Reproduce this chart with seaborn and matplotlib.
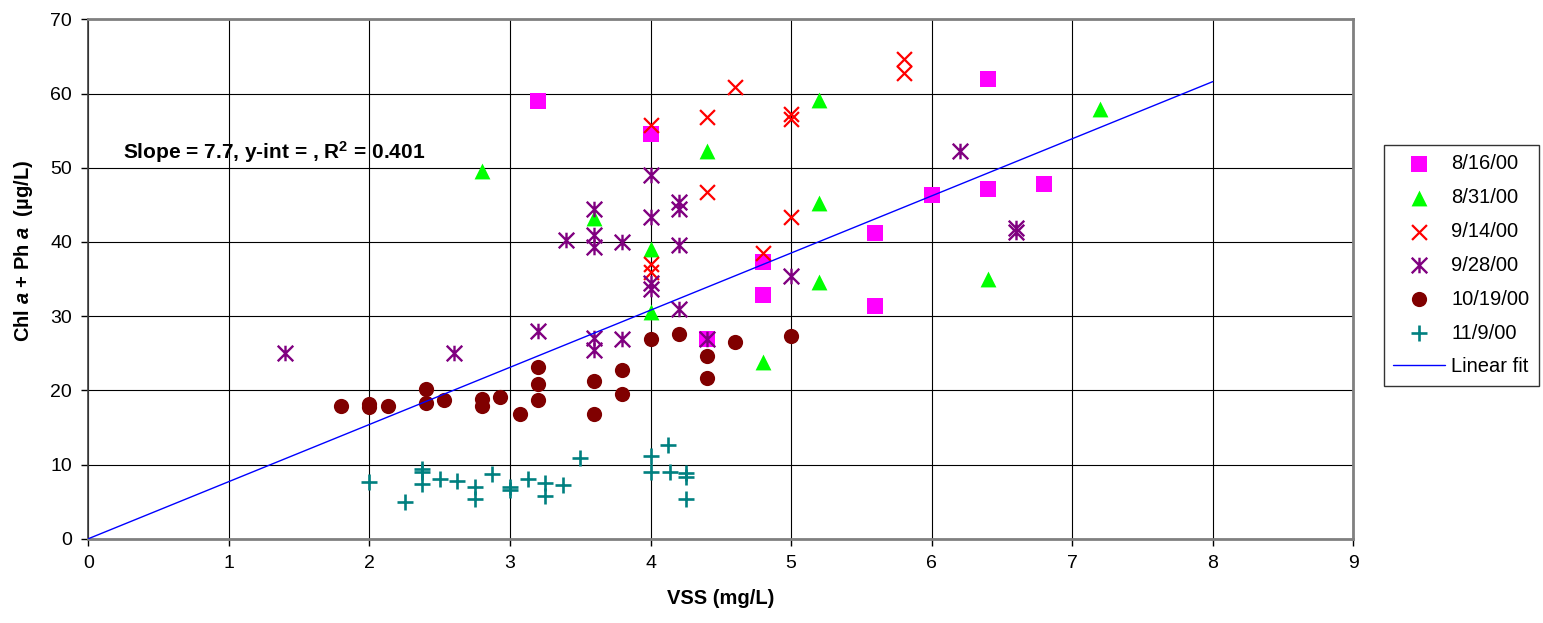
import matplotlib
matplotlib.use("Agg")
import matplotlib.pyplot as plt
import numpy as np
import seaborn as sns
from matplotlib.path import Path

sns.set_theme(style="white")
plt.rcParams["font.family"] = ["Liberation Sans", "DejaVu Sans"]
plt.rcParams["mathtext.fontset"] = "custom"
plt.rcParams["mathtext.rm"] = "Liberation Sans:bold"
plt.rcParams["mathtext.bf"] = "Liberation Sans:bold"
plt.rcParams["mathtext.it"] = "Liberation Sans:italic:bold"
plt.rcParams["text.color"] = "black"
plt.rcParams["axes.labelcolor"] = "black"
plt.rcParams["xtick.color"] = "black"
plt.rcParams["ytick.color"] = "black"

# sampling dates, one series each
aug16_x = [3.2, 4.0, 6.4, 6.0, 6.4, 6.8, 5.6, 4.8, 4.8, 5.6, 4.4]
aug16_y = [59.0, 54.5, 62.0, 46.3, 47.1, 47.8, 41.2, 37.3, 32.9, 31.4, 26.9]

aug31_x = [2.8, 5.2, 7.2, 4.4, 5.2, 3.6, 4.0, 6.4, 5.2, 4.0, 4.8]
aug31_y = [49.6, 59.1, 57.9, 52.2, 45.2, 43.2, 39.1, 35.0, 34.6, 30.6, 23.8]

sep14_x = [4.0, 4.4, 4.6, 5.0, 5.0, 5.8, 5.8, 4.4, 5.0, 4.0, 4.0, 4.8]
sep14_y = [55.7, 56.8, 60.9, 57.3, 56.5, 64.6, 62.7, 46.7, 43.3, 37.0, 36.0, 38.5]

sep28_x = [1.4, 2.6, 3.2, 3.4, 3.6, 3.6, 3.6, 3.6, 3.6, 3.8, 3.8, 4.0,
           4.0, 4.0, 4.0, 4.2, 4.2, 4.2, 4.2, 4.4, 5.0, 6.2, 6.6, 6.6]
sep28_y = [25.0, 25.0, 28.0, 40.3, 44.5, 40.9, 39.3, 27.0, 25.4, 40.0, 26.9, 49.0,
           43.3, 34.5, 33.6, 45.4, 44.5, 39.6, 30.9, 26.9, 35.4, 52.3, 41.9, 41.4]

oct19_x = [1.8, 2.0, 2.0, 2.13, 2.4, 2.4, 2.53, 2.8, 2.8, 2.93, 3.07, 3.2,
           3.2, 3.2, 3.6, 3.6, 3.8, 3.8, 4.0, 4.2, 4.4, 4.4, 4.6, 5.0]
oct19_y = [17.9, 18.2, 17.8, 17.9, 20.2, 18.3, 18.7, 18.8, 17.9, 19.1, 16.8, 23.1,
           20.9, 18.7, 21.3, 16.8, 22.8, 19.5, 26.9, 27.6, 24.6, 21.7, 26.5, 27.3]

nov9_x = [2.0, 2.25, 2.375, 2.375, 2.375, 2.5, 2.625, 2.75, 2.75, 2.875, 3.0, 3.0,
          3.125, 3.25, 3.25, 3.375, 3.5, 4.0, 4.0, 4.125, 4.14, 4.25, 4.25, 4.25]
nov9_y = [7.6, 5.0, 9.4, 9.0, 7.4, 8.0, 7.8, 7.0, 5.3, 8.7, 7.0, 6.6,
          8.1, 7.5, 5.8, 7.2, 10.9, 11.1, 9.0, 12.6, 9.0, 8.8, 8.3, 5.3]

# linear fit through origin
slope = 7.7
fit_x = np.array([0.0, 8.0])
fit_y = slope * fit_x

# excel style asterisk: an X with a vertical bar
star = Path(
    [(-1, -1), (1, 1), (-1, 1), (1, -1), (0, -1), (0, 1)],
    [Path.MOVETO, Path.LINETO, Path.MOVETO, Path.LINETO, Path.MOVETO, Path.LINETO],
)

W, H = 1543, 623
fig = plt.figure(figsize=(W / 100, H / 100), dpi=100)
ax = fig.add_axes([88.4 / W, 1 - 538.7 / H, (1353.3 - 88.4) / W, (538.7 - 19.3) / H])

sns.scatterplot(x=aug16_x, y=aug16_y, marker="s", s=125, color="#FF00FF",
                edgecolor="#FF00FF", linewidth=0, label="8/16/00", ax=ax, zorder=3)
sns.scatterplot(x=aug31_x, y=aug31_y, marker="^", s=130, color="#00FF00",
                edgecolor="#00FF00", linewidth=0, label="8/31/00", ax=ax, zorder=3)
sns.scatterplot(x=sep14_x, y=sep14_y, marker="x", s=115, color="#FF0000",
                linewidth=1.6, label="9/14/00", ax=ax, zorder=3)
sns.scatterplot(x=sep28_x, y=sep28_y, marker=star, s=125, color="#800080",
                edgecolor="#800080", linewidth=1.7, label="9/28/00", ax=ax, zorder=3)
sns.scatterplot(x=oct19_x, y=oct19_y, marker="o", s=120, color="#800000",
                edgecolor="#800000", linewidth=0, label="10/19/00", ax=ax, zorder=3)
sns.scatterplot(x=nov9_x, y=nov9_y, marker="+", s=120, color="#008080",
                linewidth=1.9, label="11/9/00", ax=ax, zorder=3)
sns.lineplot(x=fit_x, y=fit_y, color="#0000FF", linewidth=1.0, label="Linear fit",
             ax=ax, zorder=4)

ax.set_xlim(0, 9)
ax.set_ylim(0, 70)
ax.set_xticks(np.arange(0, 10, 1))
ax.set_yticks(np.arange(0, 80, 10))
ax.grid(True, color="black", linewidth=0.8)
ax.set_axisbelow(True)
ax.tick_params(axis="both", direction="out", length=4.8, width=1, color="black",
               labelsize=14, pad=7, left=True, bottom=True)
for side in ["top", "right", "bottom"]:
    ax.spines[side].set_color("#808080")
    ax.spines[side].set_linewidth(2)
ax.spines["left"].set_color("#404040")
ax.spines["left"].set_linewidth(1.2)

ax.set_xlabel("VSS (mg/L)", fontsize=14.5, fontweight="bold")
ax.set_ylabel("Chl $a$ + Ph $a$  (µg/L)", fontsize=14.5, fontweight="bold")
ax.xaxis.set_label_coords(0.5, -0.097)
ax.yaxis.set_label_coords(-0.042, 0.554)

ax.text(0.246, 52.1, "Slope = 7.7, y-int = , R$^2$ = 0.401", fontsize=15,
        fontweight="bold", va="center", ha="left")

leg = ax.legend(loc="upper left", bbox_to_anchor=(1384 / W, 1 - 145 / H),
                bbox_transform=fig.transFigure, frameon=True, fancybox=False,
                edgecolor="black", fontsize=14.5, labelspacing=0.74,
                handlelength=2.6, handletextpad=0.3, borderpad=0.45,
                borderaxespad=0)
leg.get_frame().set_linewidth(1.0)

fig.savefig("out.png", dpi=100)
